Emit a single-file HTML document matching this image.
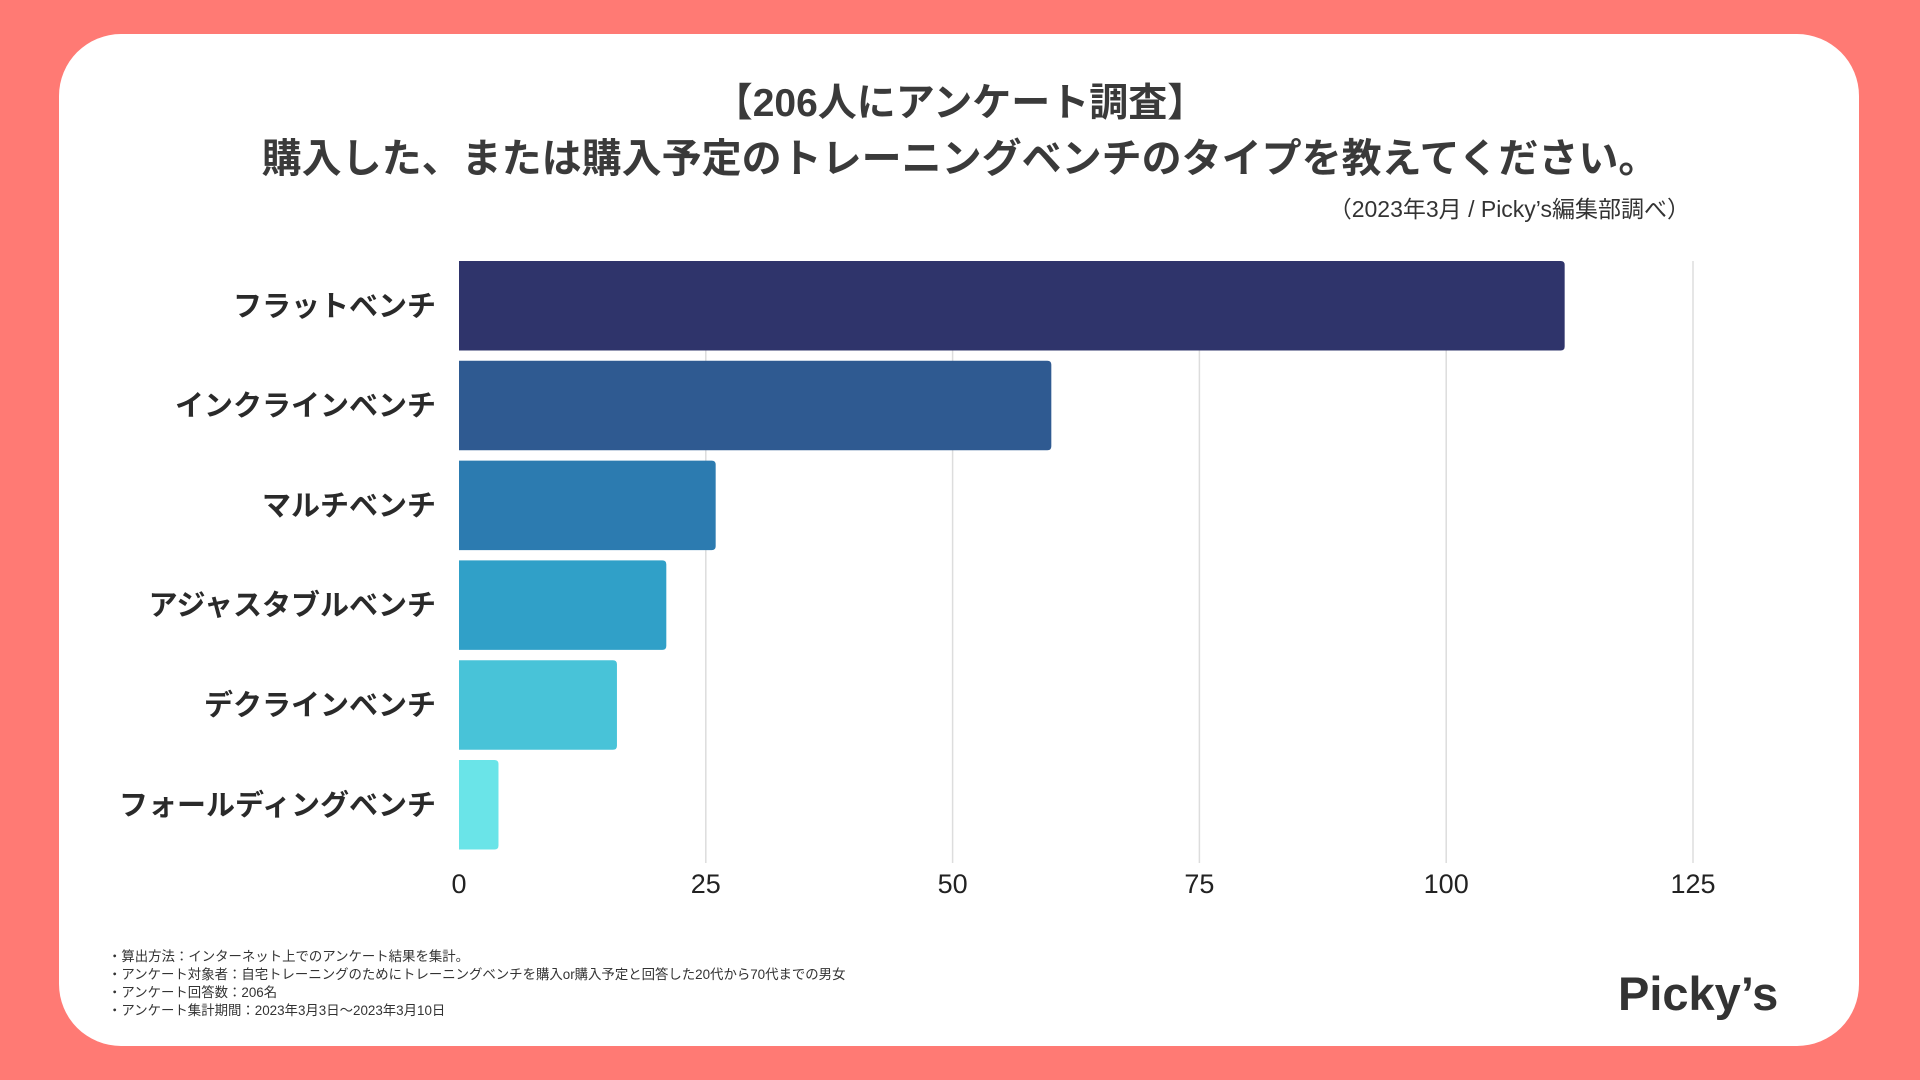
<!DOCTYPE html>
<html><head><meta charset="utf-8"><style>
html,body{margin:0;padding:0;}
body{width:1920px;height:1080px;background:#FF7A74;position:relative;overflow:hidden;font-family:"Liberation Sans","Noto Sans CJK JP",sans-serif;color:#333;}
#card{position:absolute;left:59px;top:34px;width:1800px;height:1012px;background:#fff;border-radius:62px;}
.t{position:absolute;left:0;width:1920px;text-align:center;font-weight:bold;color:#3a3a3a;}
.foot{position:absolute;left:108px;font-size:13.4px;color:#333;line-height:18px;}
</style></head><body>
<div id="card"></div>
<div class="t" style="top:72px;font-size:39px;">【206人にアンケート調査】</div>
<div class="t" style="top:126px;font-size:40px;">購入した、または購入予定のトレーニングベンチのタイプを教えてください。</div>
<div style="position:absolute;right:230px;top:190px;font-size:23px;color:#333;">（2023年3月 / Picky’s編集部調べ）</div>
<svg id="chart" width="1920" height="1080" style="position:absolute;left:0;top:0;"></svg>
<div class="foot" style="top:948px;">
・算出方法：インターネット上でのアンケート結果を集計。<br>
・アンケート対象者：自宅トレーニングのためにトレーニングベンチを購入or購入予定と回答した20代から70代までの男女<br>
・アンケート回答数：206名<br>
・アンケート集計期間：2023年3月3日〜2023年3月10日</div>
<div style="position:absolute;left:1618px;top:966px;font-size:47px;font-weight:bold;color:#333;letter-spacing:0px;">Picky’s</div>
<script>
const categories=["フラットベンチ","インクラインベンチ","マルチベンチ","アジャスタブルベンチ","デクラインベンチ","フォールディングベンチ"];
const values=[112,60,26,21,16,4];
const colors=["#2F346B","#2F5A91","#2C7BB0","#30A0C8","#48C3D8","#6AE4E8"];
const ticks=[0,25,50,75,100,125];
const NS="http://www.w3.org/2000/svg";
const svg=document.getElementById("chart");
const x0=459,x1=1693,vmax=125,top0=261,pitch=99.8,bh=89.5,gridBottom=863;
function xs(v){return x0+(x1-x0)*v/vmax;}
function yb(i){return top0+i*pitch;}
function mk(tag,attrs){const e=document.createElementNS(NS,tag);for(const k in attrs)e.setAttribute(k,attrs[k]);svg.appendChild(e);return e;}
ticks.forEach((t)=>{
  if(t>0){const l=mk("line",{x1:xs(t),x2:xs(t),y1:top0,y2:gridBottom,stroke:"#ddd","stroke-width":1.5});
  
  }
  const tx=mk("text",{x:xs(t),y:893,"text-anchor":"middle","font-size":27,fill:"#222"});
  tx.textContent=t;
  
  
});
categories.forEach((c,i)=>{
  const w=xs(values[i])-x0,y=yb(i),r=4;
  const p=mk("path",{d:`M${x0},${y}H${x0+w-r}Q${x0+w},${y} ${x0+w},${y+r}V${y+bh-r}Q${x0+w},${y+bh} ${x0+w-r},${y+bh}H${x0}Z`,fill:colors[i]});
  
  
  const t=mk("text",{x:436,y:y+bh/2+10,"text-anchor":"end","font-size":29,"font-weight":"bold",fill:"#2a2a2a"});
  t.textContent=c;
  
  
});
</script>
</body></html>
